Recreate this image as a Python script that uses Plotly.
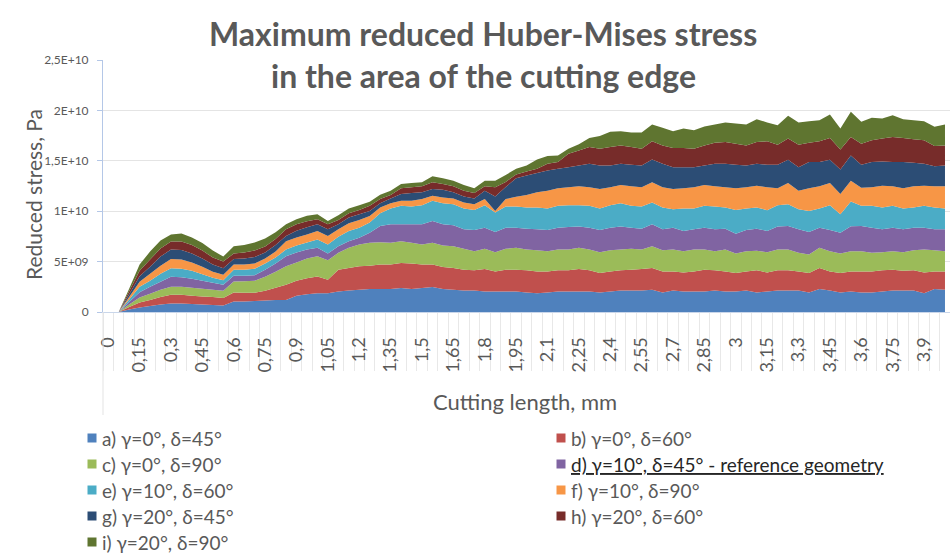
import plotly.graph_objects as go

# ---------------- data (cutting length in mm, stresses in units of 1E+08 Pa) ----------------
x_mm = [0, 0.05, 0.1, 0.15, 0.2, 0.25, 0.3, 0.35, 0.4, 0.45, 0.5, 0.55, 0.6, 0.65, 0.7, 0.75,
        0.8, 0.85, 0.9, 0.95, 1.0, 1.05, 1.1, 1.15, 1.2, 1.25, 1.3, 1.35, 1.4, 1.45, 1.5, 1.55,
        1.6, 1.65, 1.7, 1.75, 1.8, 1.85, 1.9, 1.95, 2.0, 2.05, 2.1, 2.15, 2.2, 2.25, 2.3, 2.35,
        2.4, 2.45, 2.5, 2.55, 2.6, 2.65, 2.7, 2.75, 2.8, 2.85, 2.9, 2.95, 3.0, 3.05, 3.1, 3.15,
        3.2, 3.25, 3.3, 3.35, 3.4, 3.45, 3.5, 3.55, 3.6, 3.65, 3.7, 3.75, 3.8, 3.85, 3.9, 3.95, 4.0]

s_a = [0, 0, 2.5, 4.5, 6, 7.5, 8.5, 8.5, 8, 7.5, 7, 6.5, 10.3, 10.5, 11, 11.5, 12, 12, 16, 17.5,
       18.7, 18.7, 20.3, 21.3, 22, 22.7, 22.7, 22.7, 23.7, 22.7, 23.7, 24.7, 22.7, 22, 21.3, 21.3,
       20.3, 20.3, 20.3, 20.3, 19.3, 18.7, 19.3, 20.3, 20.3, 20.3, 20.3, 19.3, 20.3, 21.3, 21.3,
       21.3, 22, 19.3, 21.3, 20.3, 20.3, 20.3, 21.3, 20.3, 20.3, 21.3, 19.3, 20.3, 21.3, 21.3,
       21.3, 19.3, 22.7, 21.3, 19.3, 20.3, 19.3, 19.3, 20.3, 21.3, 21.3, 21.3, 18.7, 22.7, 22]
s_b = [0, 0, 2.5, 5, 6, 7.5, 8.5, 8.5, 8, 8, 8, 7.5, 9, 8.5, 8, 9.5, 12, 15, 15, 16,
       16.6, 13.3, 21.7, 22.4, 23.3, 23.3, 24.3, 24.3, 25, 25.3, 23.3, 22.3, 22, 21.7, 20.7, 20,
       22.4, 20, 21.7, 21.7, 22, 21.6, 21, 21, 21, 22.4, 21, 19.4, 20, 20, 20.7,
       21.4, 21.7, 21, 19, 19, 20, 21.7, 20, 20, 18.4, 19, 22, 19, 20, 20,
       19, 19.4, 21, 19, 19.4, 20, 21, 21, 21, 20.7, 19.7, 20, 20.6, 17.6, 18.3]
s_c = [0, 0, 2.5, 5, 6, 7, 8, 8, 8, 7.5, 7, 7, 11, 11.5, 12, 14, 16, 18.3, 18, 19.5,
       20, 19.3, 16.7, 20, 21.7, 22.7, 22.3, 21.7, 21.6, 20.7, 20, 21.7, 21.3, 21.6, 20.7, 19,
       20, 19, 20.7, 21.7, 20.7, 21, 20, 20.7, 20.7, 21, 20.7, 20.6, 21, 20.7, 20.7,
       19.3, 21.6, 21, 21.7, 21, 21.7, 20, 19, 21.7, 19.3, 20, 19.4, 20, 20.7, 20.7,
       18.4, 18.3, 20, 20, 19.3, 20, 20, 18.4, 18, 18.3, 18.3, 20, 22.7, 21, 20]
s_d = [0, 0, 2.5, 5, 7, 8, 10, 9.5, 9, 8, 7, 6, 5.7, 5.5, 5.5, 7, 8, 10, 10, 9,
       8.4, 6.7, 6.6, 6.6, 6.7, 10, 16, 18.3, 16.7, 18.3, 20, 21.6, 21, 20.7, 19.3, 21,
       21, 20, 21, 20, 20.7, 20.7, 21, 21.7, 22.3, 21, 21.7, 22, 22.4, 22.7, 21,
       20.7, 21.7, 20.7, 21.7, 20, 20, 21.7, 21.7, 20.7, 19.7, 21, 22, 21, 22.7, 23.3,
       23.3, 22.3, 20, 21, 20.7, 24.7, 25, 25, 22.7, 23.4, 22.7, 22.4, 21.7, 20.7, 21.7]
s_e = [0, 0, 2.5, 5.5, 6, 8, 8.5, 8.5, 8, 6.5, 5, 4.5, 6, 6, 6.5, 6, 6, 6.7, 7, 7,
       8.3, 9, 9.4, 10, 10, 10, 12.7, 15.7, 18.3, 17.7, 19, 20, 21, 21, 20.7, 20,
       22.3, 19.4, 21, 21, 21, 21.7, 21.4, 21.6, 21.7, 21.3, 21.6, 21.4, 22.3, 23.3, 21.6,
       22, 21.7, 21.7, 18.3, 22.4, 20.7, 21.6, 22.7, 21, 23.6, 21.4, 21, 20.7, 21.3, 21.7,
       20, 21, 19, 24.7, 18.3, 24.5, 20, 21.6, 21.7, 21.6, 20.7, 20, 21.6, 21.7, 20.7]
s_f = [0, 0, 2.5, 5, 7, 8, 9, 9, 8, 7.5, 6, 5.5, 5, 5, 5, 5, 6, 8.3, 8, 8,
       8.3, 8.3, 7.3, 7.7, 7.6, 6.6, 5.7, 5.3, 5, 5.6, 6, 5, 5.7, 5.7, 6, 5.7,
       6, 1.6, 7.3, 9.6, 12.3, 15, 17.6, 17.4, 17.7, 18.7, 18.4, 19.3, 17.7, 18, 19.4,
       19, 20, 20, 20, 20, 21, 20.7, 20, 20, 21.4, 21, 21.6, 22.7, 16.7, 21,
       18.3, 22.4, 22, 22, 20, 20.8, 18, 18.4, 21.6, 19.4, 20, 21, 20, 21, 22]
s_g = [0, 0, 2.5, 5.5, 7, 9, 9.5, 9.5, 9, 8, 7, 6.5, 5.7, 6, 6.5, 6, 6.5, 5, 6.5, 7,
       6.7, 6.7, 5, 5.7, 5.7, 5, 4.3, 4.7, 6.7, 7.7, 6.7, 6.7, 7.6, 6, 6, 5.7,
       8.3, 14.4, 12, 18.4, 19.3, 19.3, 20, 19.3, 20, 20.6, 23.3, 23.3, 21.6, 21, 21.3,
       21.6, 22.6, 23.3, 21.7, 21, 20, 19.3, 22.3, 23.3, 23.3, 21.6, 21.7, 22.3, 23.3, 23,
       23.4, 26, 24, 23, 24.3, 25, 22.7, 25, 24, 24, 26, 23.3, 21.7, 20, 20.6]
s_h = [0, 0, 3, 5.5, 7, 8, 8, 8.5, 8.5, 8, 7, 6.5, 5.3, 6, 6.5, 6, 6, 6.7, 6.5, 6,
       5, 5, 4.3, 4.3, 4.3, 5, 4, 3.3, 5.7, 5.7, 6, 6.7, 5.7, 6, 5.6, 5.3,
       4.4, 9, 5, 3.8, 4.2, 4, 6.7, 6.7, 13.3, 15, 16.7, 16.7, 18.4, 18.3, 17.7,
       16.7, 18, 18.3, 19, 19, 18.3, 20, 21, 21.7, 21, 20, 21.7, 23.3, 20, 21,
       22.3, 19.3, 20.6, 21.7, 20, 18.4, 21, 21.6, 22.7, 25, 24, 23.3, 23.3, 20, 20]
s_i = [0, 0, 2.5, 6, 8, 8, 7, 8, 7.5, 7.5, 7, 5, 7.3, 7.5, 8, 8, 6.5, 5, 5, 5.5,
       5, 3.3, 4.7, 4.7, 4.7, 4, 4.3, 4.3, 4.3, 4.3, 4, 6, 5.7, 5.6, 5.7, 4.7,
       5.6, 6.6, 7, 5.5, 5.8, 9.3, 7.7, 6.6, 5, 6, 9, 12.7, 15, 14, 14.3,
       16, 16.7, 17.4, 16.6, 19.3, 18.3, 18.7, 18, 19.3, 20, 20.7, 22.6, 18.7, 19.3, 22.7,
       22, 21.3, 21, 23.3, 20.7, 25, 21.7, 22.4, 20, 21.6, 18.6, 19, 19, 19, 20.7]

UNIT = 1e8  # values above are in 1E+08 Pa

series_names = [
    "a) γ=0°, δ=45°", "b) γ=0°, δ=60°", "c) γ=0°, δ=90°",
    "d) γ=10°, δ=45° - reference geometry", "e) γ=10°, δ=60°", "f) γ=10°, δ=90°",
    "g) γ=20°, δ=45°", "h) γ=20°, δ=60°", "i) γ=20°, δ=90°",
]
series_values = [s_a, s_b, s_c, s_d, s_e, s_f, s_g, s_h, s_i]
series_colors = ["#4F81BD", "#C0504D", "#9BBB59", "#8064A2", "#4BACC6",
                 "#F79646", "#2C4D75", "#772C2A", "#5F7530"]

x_tick_vals = [0, 0.15, 0.3, 0.45, 0.6, 0.75, 0.9, 1.05, 1.2, 1.35, 1.5, 1.65, 1.8, 1.95,
               2.1, 2.25, 2.4, 2.55, 2.7, 2.85, 3.0, 3.15, 3.3, 3.45, 3.6, 3.75, 3.9]
x_tick_text = ["0", "0,15", "0,3", "0,45", "0,6", "0,75", "0,9", "1,05", "1,2", "1,35", "1,5",
               "1,65", "1,8", "1,95", "2,1", "2,25", "2,4", "2,55", "2,7", "2,85", "3", "3,15",
               "3,3", "3,45", "3,6", "3,75", "3,9"]
y_tick_vals = [0, 5e9, 1e10, 1.5e10, 2e10, 2.5e10]
y_tick_text = ["0", "5E+09", "1E+10", "1,5E+10", "2E+10", "2,5E+10"]

# ---------------- layout geometry ----------------
W, H = 951, 554
ML, MR, MT, MB = 103, 1, 60, 242
PW, PH = W - ML - MR, H - MT - MB
FONT = "Lato"
GREY = "#595959"


def fx(px):
    return (px - ML) / PW


def fy(py):
    return (MT + PH - py) / PH


fig = go.Figure()
for name, vals, col in zip(series_names, series_values, series_colors):
    fig.add_trace(go.Scatter(
        x=x_mm, y=[v * UNIT for v in vals], name=name, stackgroup="one",
        mode="none", fillcolor=col, line=dict(width=0), showlegend=False,
    ))

annotations = [
    dict(text="<b>Maximum reduced Huber-Mises stress</b>", x=fx(483), y=fy(34),
         font=dict(family=FONT, size=32, color=GREY)),
    dict(text="<b>in the area of the cutting edge</b>", x=fx(483), y=fy(75),
         font=dict(family=FONT, size=32, color=GREY)),
    dict(text="Reduced stress, Pa", x=fx(33), y=fy(195), textangle=-90,
         font=dict(family=FONT, size=21, color=GREY)),
    dict(text="Cutting length, mm", x=fx(525), y=fy(401),
         font=dict(family=FONT, size=22, color=GREY)),
]
shapes = []

# manual legend (two columns)
col_x = [92, 561]
row_y = [438, 464, 490, 516, 542]
for k, (name, col) in enumerate(zip(series_names, series_colors)):
    cx = col_x[k % 2]
    cy = row_y[k // 2]
    shapes.append(dict(type="rect", xref="paper", yref="paper",
                       x0=fx(cx - 4.5), x1=fx(cx + 4.5), y0=fy(cy - 4.5), y1=fy(cy + 4.5),
                       fillcolor=col, line=dict(width=0)))
    txt = name
    tcol = GREY
    if k == 3:
        txt = '<span style="text-decoration:underline">' + name + '</span>'
        tcol = "#262626"
    annotations.append(dict(text=txt, x=fx(cx + 8), y=fy(cy), xanchor="left",
                            font=dict(family=FONT, size=19, color=tcol)))

# vertical separator below the plot's left edge
shapes.append(dict(type="line", xref="paper", yref="paper", x0=0, x1=0, y0=0, y1=fy(415),
                   line=dict(color="#e3e3e3", width=1)))

for a in annotations:
    a.setdefault("xref", "paper")
    a.setdefault("yref", "paper")
    a.setdefault("showarrow", False)
    a.setdefault("xanchor", "center")
    a.setdefault("yanchor", "middle")

fig.update_layout(
    width=W, height=H, autosize=False,
    margin=dict(l=ML, r=MR, t=MT, b=MB, pad=0),
    paper_bgcolor="white", plot_bgcolor="white",
    showlegend=False,
    annotations=annotations, shapes=shapes,
    xaxis=dict(
        range=[-0.025, 4.024], tickmode="array", tickvals=x_tick_vals, ticktext=x_tick_text,
        tickangle=-90, ticks="", showgrid=False, zeroline=False,
        showline=True, linecolor="#c9d6ea", linewidth=1,
        tickfont=dict(family=FONT, size=18, color=GREY), ticklabelstandoff=17,
        minor=dict(tickmode="linear", tick0=-0.025, dtick=0.05, ticks="outside",
                   ticklen=58, tickcolor="#e8e8e8", tickwidth=1, showgrid=False),
    ),
    yaxis=dict(
        range=[0, 2.5e10], tickmode="array", tickvals=y_tick_vals, ticktext=y_tick_text,
        showgrid=True, gridcolor="#e4e4e4", gridwidth=1, zeroline=False,
        showline=True, linecolor="#b4c7e7", linewidth=1,
        ticks="outside", ticklen=5, tickcolor="#b4c7e7",
        tickfont=dict(family=FONT, size=12, color=GREY), ticklabelstandoff=6,
    ),
)

fig.write_html("out.html", config={"displayModeBar": False},
               post_script="document.body.style.margin='0px';")
